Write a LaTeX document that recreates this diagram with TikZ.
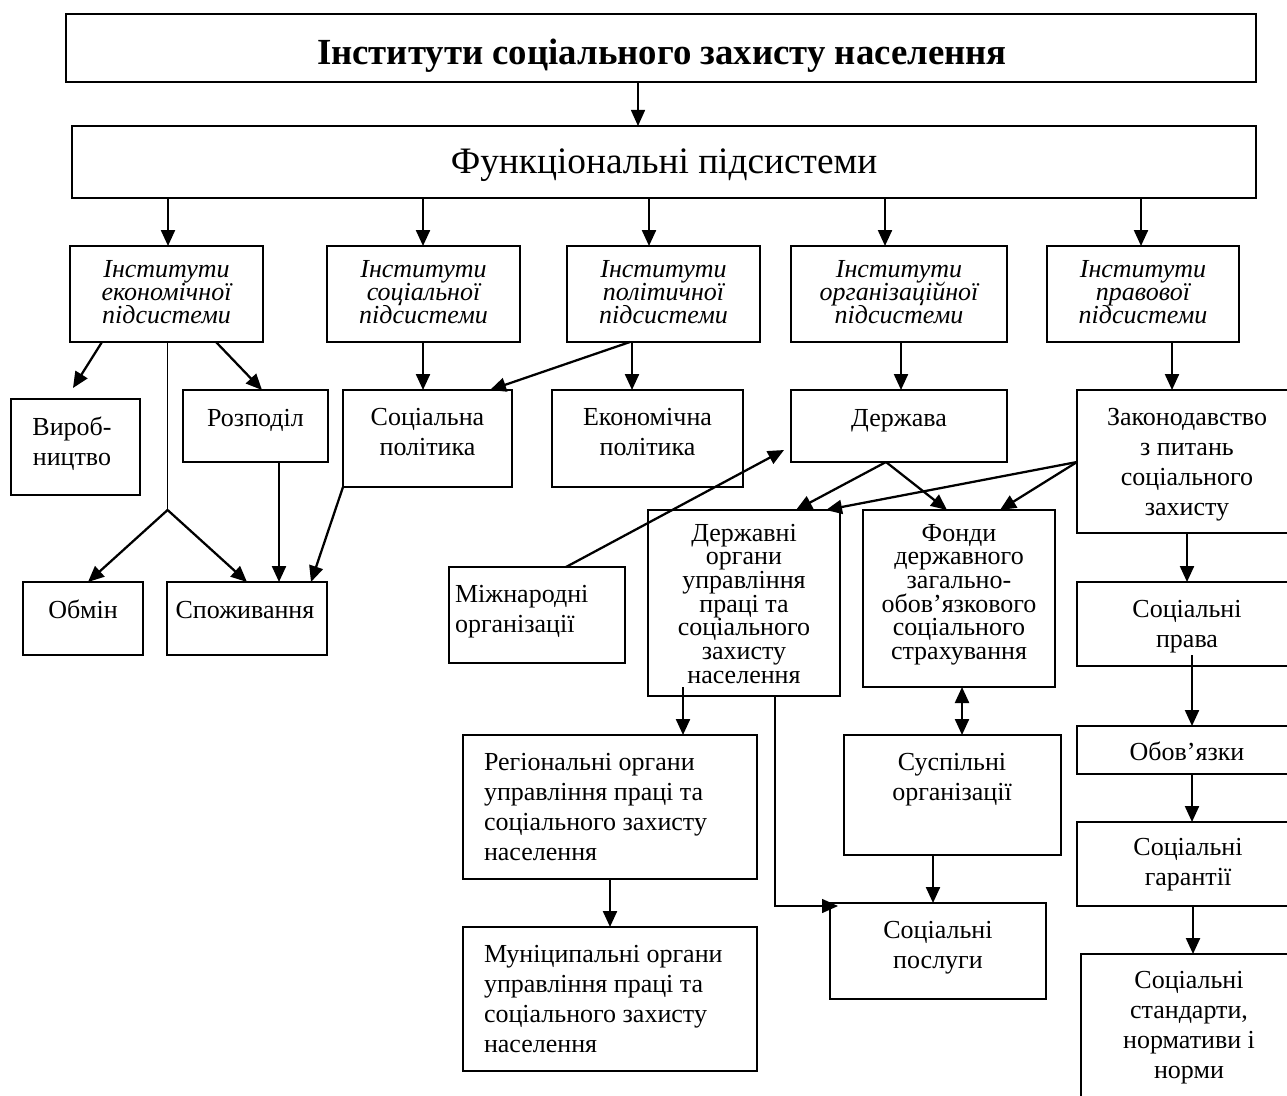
\documentclass[tikz,border=0pt]{standalone}
\usepackage{fontspec}
\setmainfont{Liberation Serif}
\usetikzlibrary{arrows.meta,fit,calc}
\newcommand\myStrut{\rule{0pt}{15pt}}
\newcommand\myNfs{\fontsize{19.5pt}{22.5pt}\selectfont}
\newcommand\myTfs{\fontsize{19.5pt}{17.8pt}\selectfont\lineskiplimit=-20pt\relax}
\newcommand\myIfs{\fontsize{19.5pt}{17.6pt}\selectfont\itshape\lineskiplimit=-20pt\relax}
\begin{document}
\begin{tikzpicture}[x=0.75pt,y=-0.75pt,
  box/.style={draw, line width=1.4pt, inner sep=0pt, outer sep=0pt},
  tx/.style={inner sep=0pt, outer sep=0pt, anchor=north, align=center, font=\myNfs},
  txl/.style={tx, anchor=north west, align=left},
  tt/.style={tx, font=\myTfs},
  itx/.style={tx, font=\myIfs},
  arr/.style={line width=1.7pt, -{Triangle[length=12pt,width=10.5pt]}},
  darr/.style={line width=1.7pt, {Triangle[length=12pt,width=10.5pt]}-{Triangle[length=12pt,width=10.5pt]}},
  thinarr/.style={line width=1.1pt, -{Triangle[length=12pt,width=10.5pt]}},
  thinln/.style={line width=1.1pt}]
\useasboundingbox (0,0) rectangle (1287,1095);
\clip (0,0) rectangle (1287,1095);

% ---- top ----
\node[box, fit={(66,14) (1256,82)}] (title) {};
\node[anchor=base, inner sep=0pt, font=\fontsize{27.6pt}{32pt}\selectfont\bfseries] (titleT) at (662,65) {Інститути соціального захисту населення};
\node[box, fit={(72,126) (1256,198)}] (funk) {};
\node[anchor=base, inner sep=0pt, font=\fontsize{28pt}{32pt}\selectfont] (funkT) at (664,173) {Функціональні підсистеми};

% ---- italic level ----
\node[box, fit={(70,246) (263,342)}] (ekonI) {};
\node[itx] (ekonIT) at (166.5,257) {\myStrut Інститути\\економічної\\підсистеми};
\node[box, fit={(327,246) (520,342)}] (socI) {};
\node[itx] (socIT) at (423.5,257) {\myStrut Інститути\\соціальної\\підсистеми};
\node[box, fit={(567,246) (760,342)}] (polI) {};
\node[itx] (polIT) at (663.5,257) {\myStrut Інститути\\політичної\\підсистеми};
\node[box, fit={(791,246) (1007,342)}] (orgI) {};
\node[itx] (orgIT) at (899,257) {\myStrut Інститути\\організаційної\\підсистеми};
\node[box, fit={(1047,246) (1239,342)}] (pravI) {};
\node[itx] (pravIT) at (1143,257) {\myStrut Інститути\\правової\\підсистеми};

% ---- level 4 ----
\node[box, fit={(11,399) (140,495)}] (vyrob) {};
\node[tx] (vyrobT) at (72,415) {\myStrut Вироб-\\ництво};
\node[box, fit={(183,390) (328,462)}] (rozp) {};
\node[tx] (rozpT) at (255.5,406) {\myStrut Розподіл};
\node[box, fit={(343,390) (512,487)}] (socpol) {};
\node[tx] (socpolT) at (427.5,405) {\myStrut Соціальна\\політика};
\node[box, fit={(552,390) (743,487)}] (ekonpol) {};
\node[tx] (ekonpolT) at (647.5,405) {\myStrut Економічна\\політика};
\node[box, fit={(791,390) (1007,462)}] (derzh) {};
\node[tx] (derzhT) at (899,406) {\myStrut Держава};
\node[box, fit={(1077,390) (1300,533)}] (zakon) {};
\node[tx] (zakonT) at (1187,405) {\myStrut Законодавство\\з питань\\соціального\\захисту};

% ---- level 5 ----
\node[box, fit={(23,582) (143,655)}] (obmin) {};
\node[tx] (obminT) at (83,598) {\myStrut Обмін};
\node[box, fit={(167,582) (327,655)}] (spozh) {};
\node[tx] (spozhT) at (245,598) {\myStrut Споживання};
\node[box, fit={(449,567) (625,663)}] (mizh) {};
\node[txl] (mizhT) at (455,582) {\myStrut Міжнародні\\організації};
\node[box, fit={(648,510) (840,696)}] (derzhorg) {};
\node[tt] (derzhorgT) at (744,521) {\myStrut Державні\\органи\\управління\\праці та\\соціального\\захисту\\населення};
\node[box, fit={(863,510) (1055,687)}] (fondy) {};
\node[tt] (fondyT) at (959,521) {\myStrut Фонди\\державного\\загально-\\обов’язкового\\соціального\\страхування};
\node[box, fit={(1077,582) (1300,666)}] (socprava) {};
\node[tx] (socpravaT) at (1187,597) {\myStrut Соціальні\\права};

% ---- lower ----
\node[box, fit={(463,735) (757,879)}] (region) {};
\node[txl] (regionT) at (484,750) {\myStrut Регіональні органи\\управління праці та\\соціального захисту\\населення};
\node[box, fit={(463,927) (757,1071)}] (munic) {};
\node[txl] (municT) at (484,942) {\myStrut Муніципальні органи\\управління праці та\\соціального захисту\\населення};
\node[box, fit={(844,735) (1061,855)}] (suspil) {};
\node[tx] (suspilT) at (952,750) {\myStrut Суспільні\\організації};
\node[box, fit={(830,903) (1046,999)}] (socposl) {};
\node[tx] (socposlT) at (938,918) {\myStrut Соціальні\\послуги};
\node[box, fit={(1077,726) (1300,774)}] (obov) {};
\node[tx] (obovT) at (1187,740) {\myStrut Обов’язки};
\node[box, fit={(1077,822) (1300,906)}] (garant) {};
\node[tx] (garantT) at (1188,835) {\myStrut Соціальні\\гарантії};
\node[box, fit={(1081,954) (1300,1120)}] (standart) {};
\node[tx] (standartT) at (1189,968) {\myStrut Соціальні\\стандарти,\\нормативи і\\норми};

% ---- connectors ----
\draw[thinarr] ($(title.south west)+(572,0)$) -- ($(funk.north west)+(566,0)$);
\draw[arr] ($(funk.south west)+(96,0)$) -- ($(ekonI.north west)+(98,0)$);
\draw[arr] ($(funk.south west)+(351,0)$) -- ($(socI.north west)+(96,0)$);
\draw[arr] ($(funk.south west)+(577,0)$) -- ($(polI.north west)+(82,0)$);
\draw[arr] ($(funk.south west)+(813,0)$) -- ($(orgI.north west)+(94,0)$);
\draw[arr] ($(funk.south west)+(1069,0)$) -- ($(pravI.north west)+(94,0)$);

\draw[arr] ($(ekonI.south west)+(32,0)$) -- ($(vyrob.north west)+(62,-11)$);
\draw[arr] ($(ekonI.south west)+(146,0)$) -- ($(rozp.north west)+(79,0)$);
\coordinate (split) at ($(ekonI.south west)+(97.6,168)$);
\draw[thinln] ($(ekonI.south west)+(97.6,0)$) -- (split);
\draw[arr] (split) -- ($(obmin.north west)+(65,0)$);
\draw[arr] (split) -- ($(spozh.north west)+(80,0)$);
\draw[arr] ($(rozp.south west)+(96,0)$) -- ($(spozh.north west)+(112,0)$);
\draw[arr] (socpol.south west) -- ($(spozh.north west)+(144,0)$);

\draw[arr] ($(socI.south west)+(96,0)$) -- ($(socpol.north west)+(80,0)$);
\draw[arr] ($(polI.south west)+(63,0)$) -- ($(socpol.north west)+(147,0)$);
\draw[arr] ($(polI.south west)+(65,0)$) -- ($(ekonpol.north west)+(80,0)$);
\draw[arr] ($(orgI.south west)+(110,0)$) -- ($(derzh.north west)+(110,0)$);
\draw[arr] ($(pravI.south west)+(125,0)$) -- ($(zakon.north west)+(95,0)$);

\draw[arr] ($(derzh.south west)+(95,0)$) -- ($(derzhorg.north west)+(148,0)$);
\draw[arr] ($(derzh.south west)+(95,0)$) -- ($(fondy.north west)+(84,0)$);
\draw[arr] ($(zakon.north west)+(0,72)$) -- ($(derzhorg.north west)+(178,0)$);
\draw[arr] ($(zakon.north west)+(0,72)$) -- ($(fondy.north west)+(137,0)$);
\draw[arr] ($(mizh.north west)+(117,0)$) -- ($(derzh.north west)+(-7,60)$);

\draw[arr] ($(derzhorg.south west)+(35,-9)$) -- ($(region.north west)+(220,0)$);
\draw[arr] ($(region.south west)+(147,0)$) -- ($(munic.north west)+(147,0)$);
\draw[thinarr] ($(derzhorg.south west)+(127,0)$) |- ($(socposl.north west)+(8,3)$);
\draw[darr] ($(fondy.south west)+(99,0)$) -- ($(suspil.north west)+(118,0)$);
\draw[arr] ($(suspil.south west)+(89,0)$) -- ($(socposl.north west)+(103,0)$);

\draw[arr] ($(zakon.south west)+(110,0)$) -- ($(socprava.north west)+(110,0)$);
\draw[arr] ($(socprava.south west)+(115,-11)$) -- ($(obov.north west)+(115,0)$);
\draw[arr] ($(obov.south west)+(115,0)$) -- ($(garant.north west)+(115,0)$);
\draw[arr] ($(garant.south west)+(116,0)$) -- ($(standart.north west)+(112,0)$);
\end{tikzpicture}
\end{document}
